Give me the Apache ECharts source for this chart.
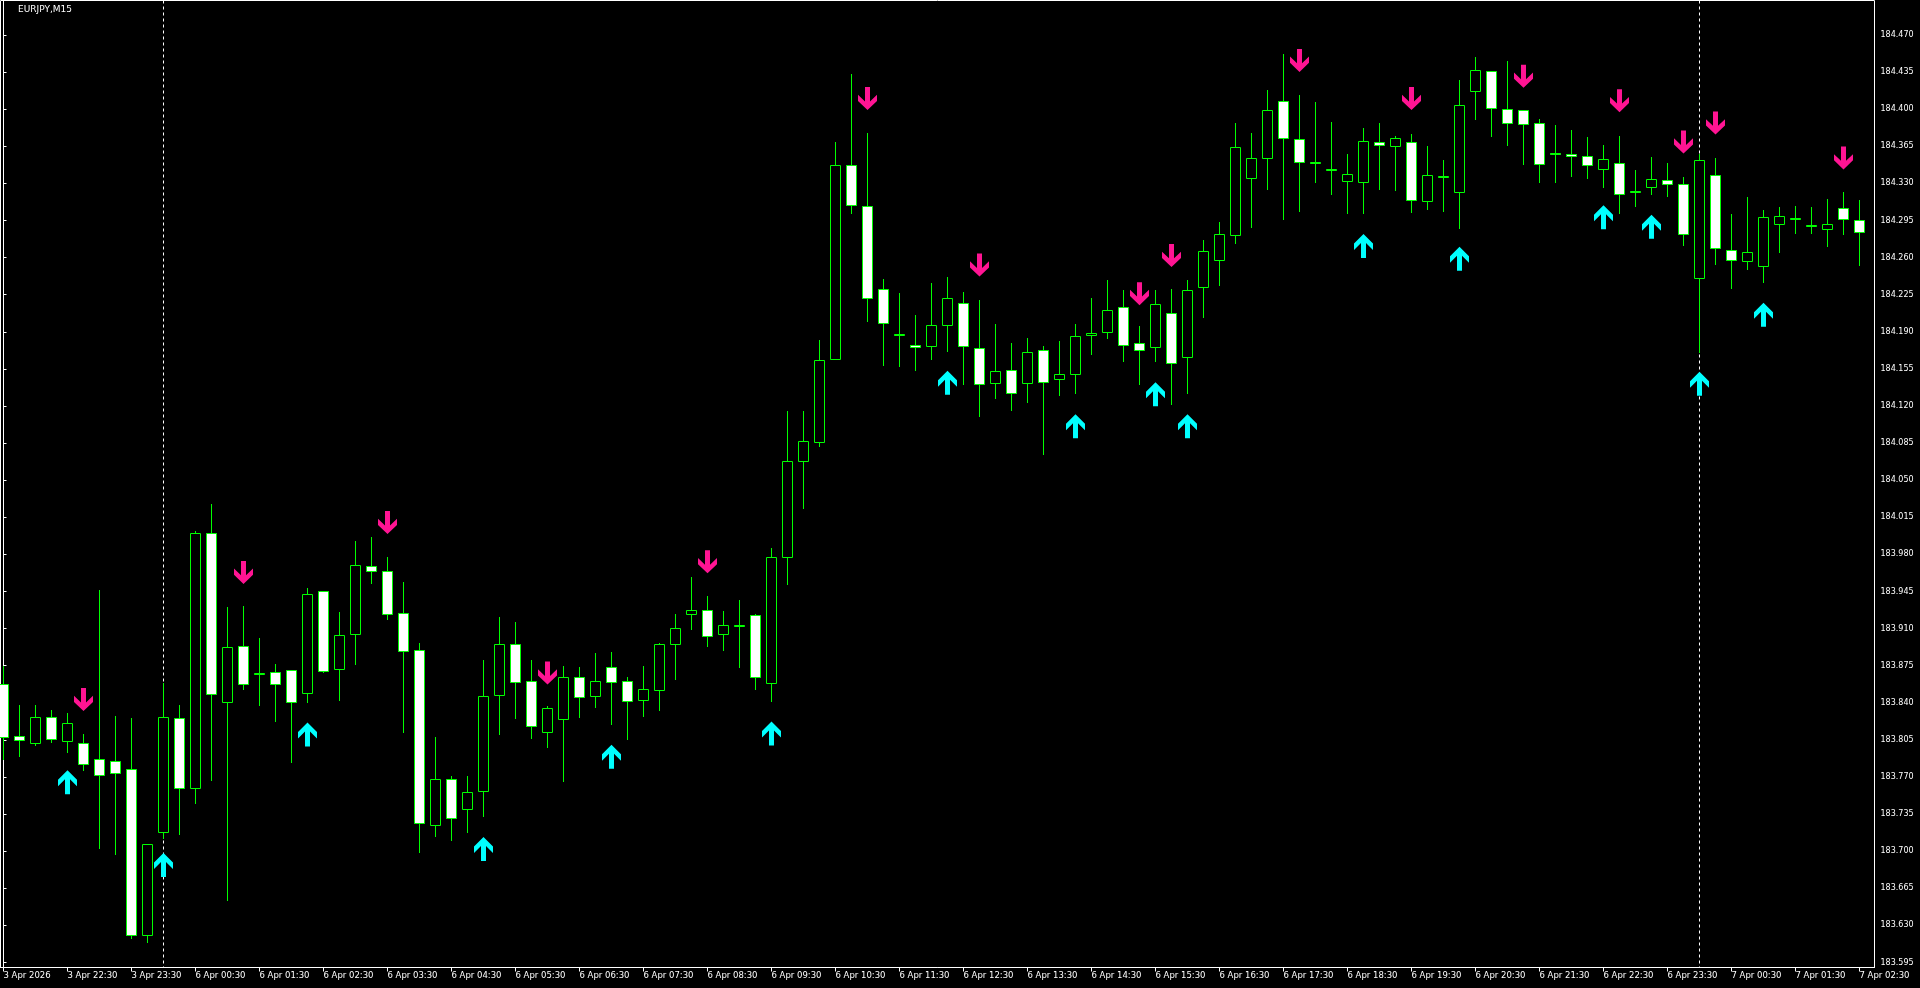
<!DOCTYPE html>
<html>
<head>
<meta charset="utf-8">
<script src="https://cdn.jsdelivr.net/npm/echarts@6/dist/echarts.min.js"></script>
<style>
html,body{margin:0;padding:0;background:#000;overflow:hidden;}
#c{width:1920px;height:988px;}
</style>
</head>
<body>
<div id="c"></div>
<script>
const symbolName = 'EURJPY,M15';

const openP = [183.858,183.809,183.802,183.827,183.804,183.802,183.787,183.785,183.778,183.621,
183.718,183.826,183.760,184.000,183.841,183.894,183.868,183.869,183.871,183.849,
183.945,183.872,183.905,183.969,183.964,183.925,183.890,183.725,183.768,183.740,
183.757,183.847,183.895,183.861,183.812,183.825,183.864,183.846,183.874,183.861,
183.843,183.852,183.895,183.924,183.928,183.905,183.913,183.923,183.859,183.978,
184.068,184.086,184.164,184.347,184.309,184.230,184.188,184.178,184.177,184.196,
184.217,184.175,184.142,184.154,184.142,184.173,184.145,184.150,184.187,184.190,
184.213,184.179,184.176,184.208,184.166,184.232,184.258,184.281,184.335,184.354,
184.408,184.372,184.350,184.344,184.332,184.331,184.369,184.365,184.369,184.313,
184.337,184.322,184.417,184.436,184.400,184.399,184.387,184.359,184.358,184.356,
184.344,184.349,184.323,184.327,184.333,184.329,184.241,184.338,184.267,184.257,
184.252,184.292,184.297,184.291,184.287,184.307,184.295];

const highP = [183.875,183.838,183.838,183.833,183.830,183.811,183.946,183.828,183.826,183.707,
183.859,183.838,184.002,184.028,183.930,183.931,183.901,183.877,183.871,183.948,
183.945,183.926,183.993,183.996,183.978,183.954,183.896,183.808,183.771,183.771,
183.880,183.921,183.916,183.880,183.837,183.875,183.874,183.887,183.888,183.864,
183.875,183.896,183.924,183.959,183.941,183.927,183.937,183.924,183.986,184.115,
184.115,184.182,184.369,184.433,184.378,184.240,184.227,184.206,184.236,184.242,
184.228,184.220,184.197,184.179,184.184,184.177,184.181,184.197,184.222,184.239,
184.229,184.195,184.229,184.230,184.239,184.277,184.294,184.387,184.378,184.418,
184.452,184.413,184.407,184.388,184.358,184.382,184.387,184.375,184.377,184.365,
184.352,184.428,184.449,184.436,184.445,184.399,184.391,184.385,184.380,184.374,
184.366,184.375,184.343,184.355,184.349,184.336,184.358,184.354,184.301,184.317,
184.305,184.308,184.309,184.308,184.315,184.322,184.314];

const lowP = [183.787,183.790,183.800,183.803,183.794,183.777,183.703,183.697,183.618,183.614,
183.712,183.716,183.745,183.767,183.654,183.853,183.838,183.823,183.784,183.841,
183.869,183.843,183.877,183.953,183.919,183.812,183.699,183.714,183.711,183.718,
183.733,183.811,183.826,183.807,183.798,183.766,183.827,183.836,183.820,183.806,
183.828,183.833,183.862,183.910,183.894,183.890,183.874,183.853,183.842,183.952,
184.024,184.082,184.164,184.302,184.200,184.159,184.158,184.154,184.164,184.172,
184.141,184.111,184.128,184.116,184.124,184.075,184.130,184.132,184.169,184.184,
184.162,184.141,184.162,184.122,184.132,184.204,184.234,184.274,184.289,184.325,
184.296,184.304,184.331,184.320,184.302,184.302,184.325,184.324,184.303,184.306,
184.304,184.288,184.391,184.375,184.366,184.348,184.331,184.331,184.337,184.335,
184.327,184.302,184.309,184.320,184.318,184.272,184.171,184.254,184.231,184.249,
184.237,184.265,184.283,184.283,184.271,184.282,184.253];

const closeP = [183.808,183.805,183.827,183.806,183.821,183.782,183.772,183.774,183.621,183.707,
183.827,183.760,184.000,183.848,183.893,183.858,183.868,183.858,183.841,183.943,
183.870,183.904,183.970,183.964,183.924,183.889,183.727,183.768,183.731,183.756,
183.846,183.895,183.860,183.818,183.835,183.864,183.845,183.861,183.860,183.842,
183.853,183.895,183.911,183.928,183.903,183.913,183.913,183.864,183.978,184.068,
184.087,184.163,184.347,184.310,184.222,184.198,184.188,184.176,184.196,184.222,
184.177,184.141,184.153,184.132,184.171,184.143,184.150,184.186,184.189,184.211,
184.178,184.173,184.216,184.161,184.229,184.266,184.282,184.364,184.354,184.399,
184.373,184.350,184.350,184.344,184.339,184.370,184.366,184.373,184.314,184.338,
184.337,184.404,184.437,184.401,184.387,184.386,184.348,184.358,184.356,184.347,
184.353,184.320,184.323,184.334,184.329,184.282,184.352,184.269,184.258,184.265,
184.298,184.299,184.297,184.291,184.292,184.296,184.284];

// time labels, one every 4 bars (bar 0, 4, 8, ...)
const timeLabels = ['3 Apr 2026','3 Apr 22:30','3 Apr 23:30','6 Apr 00:30','6 Apr 01:30','6 Apr 02:30',
'6 Apr 03:30','6 Apr 04:30','6 Apr 05:30','6 Apr 06:30','6 Apr 07:30','6 Apr 08:30','6 Apr 09:30',
'6 Apr 10:30','6 Apr 11:30','6 Apr 12:30','6 Apr 13:30','6 Apr 14:30','6 Apr 15:30','6 Apr 16:30',
'6 Apr 17:30','6 Apr 18:30','6 Apr 19:30','6 Apr 20:30','6 Apr 21:30','6 Apr 22:30','6 Apr 23:30',
'7 Apr 00:30','7 Apr 01:30','7 Apr 02:30'];
const labelStep = 4;

const priceTicks = [183.595,183.630,183.665,183.700,183.735,183.770,183.805,183.840,183.875,183.910,
183.945,183.980,184.015,184.050,184.085,184.120,184.155,184.190,184.225,184.260,184.295,184.330,
184.365,184.400,184.435,184.470];

const upArrowIdx = [4,10,19,30,38,48,59,67,72,74,85,91,100,103,106,110];
const upArrowPrice = [183.765,183.687,183.810,183.702,183.789,183.811,184.142,184.101,184.131,184.101,184.271,184.259,184.298,184.289,184.141,184.206];
const downArrowIdx = [5,15,24,34,44,54,61,71,73,81,88,95,101,105,107,115];
const downArrowPrice = [183.843,183.963,184.010,183.868,183.973,184.410,184.253,184.226,184.262,184.446,184.410,184.431,184.408,184.369,184.387,184.354];

const separatorIdx = [10, 106];

// ---- build ----
const candleData = openP.map((o, i) => [i, o, closeP[i], lowP[i], highP[i]]);
const labelIdx = timeLabels.map((_, i) => i * labelStep);
const Y_MIN = 183.590283, Y_MAX = 184.502547;
const X_MIN = -0.1875, X_MAX = 116.9375;

const GREEN = '#00ff00';
function renderCandle(params, api) {
  const k = api.value(0), o = api.value(1), c = api.value(2), l = api.value(3), h = api.value(4);
  const pO = api.coord([k, o]);
  const cx = Math.floor(pO[0]);
  const yO = Math.round(pO[1]);
  const yC = Math.round(api.coord([k, c])[1]);
  const yH = Math.round(api.coord([k, h])[1]);
  const yL = Math.round(api.coord([k, l])[1]);
  const top = Math.min(yO, yC), bot = Math.max(yO, yC);
  const bodyH = Math.max(bot - top, 1);
  const fill = c === o ? GREEN : (c > o ? '#000000' : '#ffffff');
  return {
    type: 'group',
    children: [
      { type: 'rect', shape: { x: cx, y: yH, width: 1, height: yL - yH + 1 }, style: { fill: GREEN } },
      { type: 'rect', shape: { x: cx - 4.5, y: top + 0.5, width: 10, height: bodyH },
        style: { fill: fill, stroke: GREEN, lineWidth: 1 } }
    ]
  };
}
function renderSeparator(params, api) {
  const p = api.coord([api.value(0), Y_MIN]);
  const x = Math.floor(p[0]) + 0.5;
  const cs = params.coordSys;
  return {
    type: 'line',
    shape: { x1: x, y1: cs.y, x2: x, y2: cs.y + cs.height },
    style: { stroke: '#ffffff', lineWidth: 1, lineDash: [3, 3] }
  };
}

const upPath = 'path://M9.5,0 L19,9.5 L19,16 L12,9 L12,24 L7,24 L7,9 L0,16 L0,9.5 Z';
const downPath = 'path://M9.5,24 L19,14.5 L19,8 L12,15 L12,0 L7,0 L7,15 L0,8 L0,14.5 Z';

const chart = echarts.init(document.getElementById('c'), null, { renderer: 'canvas' });
chart.setOption({
  backgroundColor: '#000000',
  animation: false,
  title: {
    text: symbolName, left: 18, top: 5, padding: 0,
    textStyle: { color: '#ffffff', fontSize: 9, fontWeight: 'normal', fontFamily: 'DejaVu Sans' }
  },
  grid: {
    left: 0.5, top: 0.5, width: 1874, height: 967,
    show: true, borderColor: '#ffffff', borderWidth: 1, backgroundColor: '#000000'
  },
  xAxis: {
    type: 'value', min: X_MIN, max: X_MAX,
    splitLine: { show: false },
    axisLine: { show: true, lineStyle: { color: '#ffffff', width: 1 } },
    axisTick: { show: true, customValues: labelIdx, length: 4, lineStyle: { color: '#ffffff' } },
    axisLabel: {
      show: true, customValues: labelIdx,
      formatter: v => timeLabels[Math.round(v / labelStep)],
      align: 'left', margin: 4, color: '#ffffff', fontSize: 8.5, fontFamily: 'DejaVu Sans'
    }
  },
  yAxis: {
    type: 'value', position: 'right', min: Y_MIN, max: Y_MAX,
    splitLine: { show: false },
    axisLine: { show: true, lineStyle: { color: '#ffffff', width: 1 } },
    axisTick: { show: true, customValues: priceTicks, length: 3, lineStyle: { color: '#ffffff' } },
    axisLabel: {
      show: true, customValues: priceTicks,
      formatter: v => v.toFixed(3),
      margin: 6, color: '#ffffff', fontSize: 8, fontFamily: 'DejaVu Sans'
    }
  },
  series: [
    {
      type: 'custom', name: 'separators', z: 1, silent: true,
      data: separatorIdx.map(i => [i, Y_MIN]),
      encode: { x: 0, y: 1 },
      renderItem: renderSeparator
    },
    {
      type: 'custom', name: symbolName, z: 2, silent: true,
      data: candleData,
      encode: { x: 0, y: [1, 2, 3, 4] },
      renderItem: renderCandle
    },
    {
      type: 'scatter', name: 'up', z: 3, silent: true,
      symbol: upPath, symbolSize: [19, 24],
      itemStyle: { color: '#00ffff', opacity: 1 },
      data: upArrowIdx.map((k, i) => [k, upArrowPrice[i]])
    },
    {
      type: 'scatter', name: 'down', z: 3, silent: true,
      symbol: downPath, symbolSize: [19, 23],
      itemStyle: { color: '#ff1493', opacity: 1 },
      data: downArrowIdx.map((k, i) => [k, downArrowPrice[i]])
    }
  ]
});
</script>
</body>
</html>
